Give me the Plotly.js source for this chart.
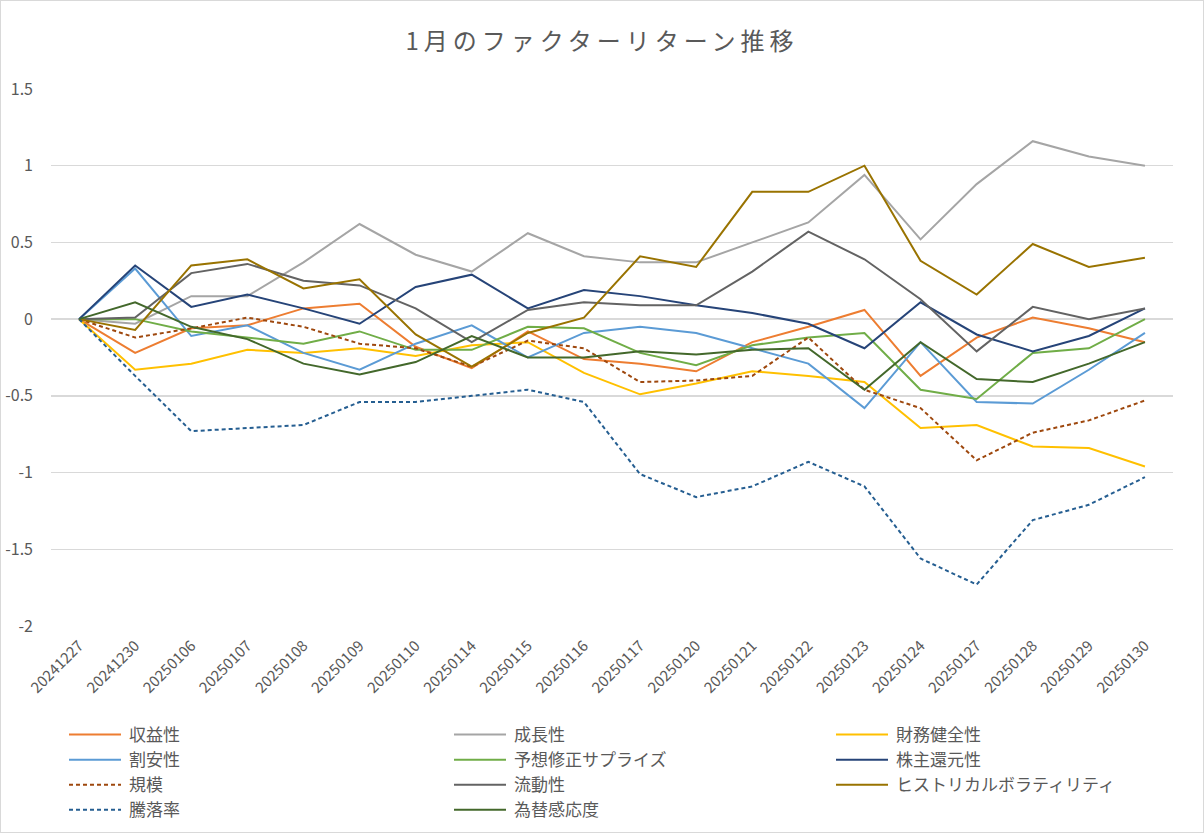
<!DOCTYPE html>
<html>
<head>
<meta charset="utf-8">
<script src="https://cdn.plot.ly/plotly-3.0.1.min.js"></script>
<style>
  html, body { margin: 0; padding: 0; background: #fff; overflow: hidden; }
  #stage { position: relative; width: 1204px; height: 833px; overflow: hidden; }
  #chart { position: absolute; left: 0; top: 0; width: 1204px; height: 860px; }
  #frame { position: absolute; left: 0; top: 0; width: 1204px; height: 833px; box-sizing: border-box; border: 1px solid #d9d9d9; pointer-events: none; }
  .gtitle { letter-spacing: 5px; }
</style>
</head>
<body>
<div id="stage"><div id="chart"></div><div id="frame"></div></div>
<script>
const dates = ['20241227','20241230','20250106','20250107','20250108','20250109','20250110','20250114','20250115','20250116','20250117','20250120','20250121','20250122','20250123','20250124','20250127','20250128','20250129','20250130'];

const profitability = [0, -0.22, -0.06, -0.04, 0.07, 0.10, -0.18, -0.32, -0.08, -0.26, -0.29, -0.34, -0.15, -0.05, 0.06, -0.37, -0.12, 0.01, -0.06, -0.15];
const growth = [0, -0.03, 0.15, 0.15, 0.37, 0.62, 0.42, 0.31, 0.56, 0.41, 0.37, 0.37, 0.50, 0.63, 0.94, 0.52, 0.88, 1.16, 1.06, 1.00];
const financialHealth = [0, -0.33, -0.29, -0.20, -0.22, -0.19, -0.24, -0.17, -0.15, -0.35, -0.49, -0.42, -0.34, -0.37, -0.41, -0.71, -0.69, -0.83, -0.84, -0.96];
const value = [0, 0.33, -0.11, -0.04, -0.22, -0.33, -0.16, -0.04, -0.25, -0.09, -0.05, -0.09, -0.19, -0.29, -0.58, -0.15, -0.54, -0.55, -0.33, -0.09];
const revision = [0, 0.00, -0.08, -0.12, -0.16, -0.08, -0.20, -0.20, -0.05, -0.06, -0.22, -0.30, -0.17, -0.12, -0.09, -0.46, -0.52, -0.22, -0.19, 0.00];
const shareholderReturn = [0, 0.35, 0.08, 0.16, 0.07, -0.03, 0.21, 0.29, 0.07, 0.19, 0.15, 0.09, 0.04, -0.03, -0.19, 0.11, -0.10, -0.21, -0.11, 0.07];
const size = [0, -0.12, -0.06, 0.01, -0.05, -0.16, -0.19, -0.31, -0.14, -0.19, -0.41, -0.40, -0.37, -0.12, -0.46, -0.58, -0.92, -0.74, -0.66, -0.53];
const liquidity = [0, 0.01, 0.30, 0.36, 0.25, 0.22, 0.07, -0.15, 0.06, 0.11, 0.09, 0.09, 0.31, 0.57, 0.39, 0.13, -0.21, 0.08, 0.00, 0.07];
const histVol = [0, -0.07, 0.35, 0.39, 0.20, 0.26, -0.10, -0.31, -0.09, 0.01, 0.41, 0.34, 0.83, 0.83, 1.00, 0.38, 0.16, 0.49, 0.34, 0.40];
const momentum = [0, -0.37, -0.73, -0.71, -0.69, -0.54, -0.54, -0.50, -0.46, -0.54, -1.01, -1.16, -1.09, -0.93, -1.09, -1.56, -1.73, -1.31, -1.21, -1.03];
const fxSensitivity = [0, 0.11, -0.05, -0.13, -0.29, -0.36, -0.28, -0.11, -0.25, -0.25, -0.21, -0.23, -0.20, -0.19, -0.46, -0.15, -0.39, -0.41, -0.29, -0.15];

const seriesNames = ['収益性','成長性','財務健全性','割安性','予想修正サプライズ','株主還元性','規模','流動性','ヒストリカルボラティリティ','騰落率','為替感応度'];
const seriesData = [profitability, growth, financialHealth, value, revision, shareholderReturn, size, liquidity, histVol, momentum, fxSensitivity];
const seriesColors = ['#ED7D31','#A5A5A5','#FFC000','#5B9BD5','#70AD47','#264478','#9E480E','#636363','#997300','#255E91','#43682B'];
const seriesDash = ['solid','solid','solid','solid','solid','solid','4px,3px','solid','solid','4px,3px','solid'];

const yTicks = [-2, -1.5, -1, -0.5, 0, 0.5, 1, 1.5];
const yTickText = ['-2','-1.5','-1','-0.5','0','0.5','1','1.5'];

// legend columns (3 columns, filled row by row like the original)
const legendIds = ['legend','legend2','legend3'];

const traces = seriesNames.map((n, i) => ({
  type: 'scatter',
  mode: 'lines',
  name: n,
  x: dates,
  y: seriesData[i],
  line: { color: seriesColors[i], width: 2, dash: seriesDash[i] },
  legend: legendIds[i % 3],
  hoverinfo: 'x+y+name'
}));

const FONT = '"Noto Sans CJK JP", "Noto Sans", sans-serif';
const W = 1204, H = 860;
const M = { l: 51, r: 31, t: 89, b: 234 };
const plotW = W - M.l - M.r, plotH = H - M.t - M.b;

function legendAt(xpx) {
  return {
    orientation: 'v',
    xref: 'paper', yref: 'paper',
    x: (xpx - M.l) / plotW, xanchor: 'left',
    y: ((H - M.b) - 717) / plotH, yanchor: 'top',
    font: { family: FONT, size: 17, color: '#595959' },
    itemwidth: 55,
    traceorder: 'normal',
    tracegroupgap: 0,
    bgcolor: 'rgba(0,0,0,0)'
  };
}

const layout = {
  width: W,
  height: H,
  paper_bgcolor: '#ffffff',
  plot_bgcolor: '#ffffff',
  margin: { l: M.l, r: M.r, t: M.t, b: M.b, pad: 0 },
  font: { family: FONT, color: '#595959' },
  title: {
    text: '1月のファクターリターン推移',
    font: { family: FONT, size: 24, color: '#595959' },
    x: 0.5, xref: 'container', xanchor: 'center',
    y: 1 - 42 / H, yref: 'container', yanchor: 'middle'
  },
  xaxis: {
    type: 'category',
    tickangle: -45,
    tickfont: { family: FONT, size: 15, color: '#595959' },
    showgrid: false,
    showline: false,
    zeroline: false,
    ticks: '',
    ticklabelstandoff: 7,
    range: [-0.5, dates.length - 0.5]
  },
  yaxis: {
    range: [-2, 1.5],
    tickvals: yTicks,
    ticktext: yTickText,
    tickfont: { family: FONT, size: 16, color: '#595959' },
    gridcolor: '#D9D9D9',
    gridwidth: 1.3,
    zeroline: false,
    showline: false,
    ticks: '',
    ticklabelstandoff: 17
  },
  showlegend: true,
  legend: legendAt(64),
  legend2: legendAt(449),
  legend3: legendAt(831)
};

Plotly.newPlot('chart', traces, layout, { displayModeBar: false, staticPlot: true }).then(gd => {
  // lengthen the legend line samples to match the original's longer swatches
  gd.querySelectorAll('.legendlines path').forEach(p => p.setAttribute('d', 'M5,0h52'));
});
</script>
</body>
</html>
